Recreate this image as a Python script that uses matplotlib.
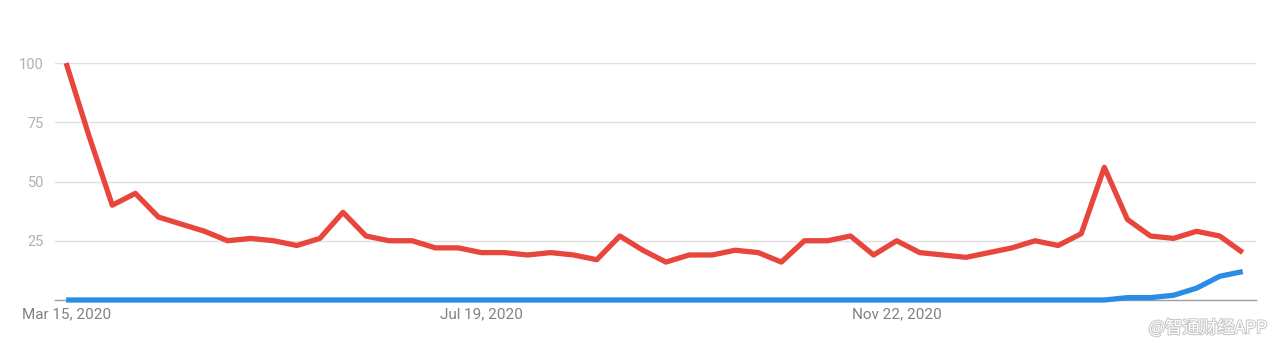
import numpy as np
import matplotlib
matplotlib.use("Agg")
import matplotlib.pyplot as plt
import matplotlib.dates as mdates
import matplotlib.patheffects as pe
import datetime as dt

# weekly interest, starting Mar 15, 2020
start = dt.date(2020, 3, 15)
red_vals = [100, 69, 40, 45, 35, 32, 29, 25, 26, 25, 23, 26, 37, 27, 25, 25,
            22, 22, 20, 20, 19, 20, 19, 17, 27, 21, 16, 19, 19, 21, 20, 16,
            25, 25, 27, 19, 25, 20, 19, 18, 20, 22, 25, 23, 28, 56, 34, 27,
            26, 29, 27, 20]
blue_vals = [0] * 46 + [1, 1, 2, 5, 10, 12]
weeks = [start + dt.timedelta(weeks=i) for i in range(len(red_vals))]
tick_dates = [dt.date(2020, 3, 15), dt.date(2020, 7, 19), dt.date(2020, 11, 22)]
tick_labels = ["Mar 15, 2020", "Jul 19, 2020", "Nov 22, 2020"]
y_ticks = [25, 50, 75, 100]

plt.rcParams["font.family"] = ["Roboto", "DejaVu Sans"]

fig = plt.figure(figsize=(12.8, 3.49), dpi=100)
ax = fig.add_axes([0.043, 0.1404, 0.938, 0.679])

ax.plot(weeks, blue_vals, color="#2b8ce6", lw=3.8, solid_capstyle="butt",
        solid_joinstyle="round", clip_on=False, zorder=3)
ax.plot(weeks, red_vals, color="#e8453c", lw=3.8, solid_capstyle="butt",
        solid_joinstyle="round", clip_on=False, zorder=4)

x0 = mdates.date2num(start)
ax.set_xlim(x0 - 0.48 * 7, x0 + 51.56 * 7)
ax.set_ylim(0, 100)

for s in ["top", "right", "left"]:
    ax.spines[s].set_visible(False)
ax.spines["bottom"].set_color("#9e9e9e")
ax.spines["bottom"].set_linewidth(1)

ax.set_yticks(y_ticks)
ax.set_yticklabels([str(v) for v in y_ticks])
ax.yaxis.grid(True, color="#e0e0e0", lw=1)
ax.set_axisbelow(True)
ax.tick_params(axis="y", length=0, pad=8, labelsize=10.5, labelcolor="#b0b0b0")

ax.set_xticks([mdates.date2num(d) for d in tick_dates])
ax.set_xticklabels(tick_labels)
ax.tick_params(axis="x", length=0, pad=5, labelsize=11, labelcolor="#808080")

fig.text(0.99, 0.06, "@智通财经APP", ha="right", va="center", fontsize=12.5,
         color="white", family=["Noto Sans CJK SC", "DejaVu Sans"],
         path_effects=[pe.withStroke(linewidth=1.5, foreground="#c8c8c8")])

fig.savefig("out.png", dpi=100)
